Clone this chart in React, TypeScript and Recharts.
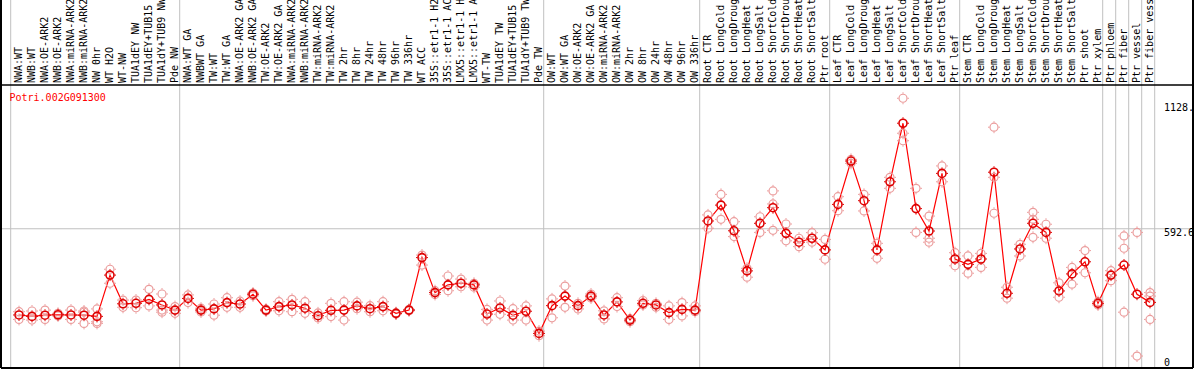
import React from "react";
import { ComposedChart, Line, Scatter, XAxis, YAxis, ReferenceLine } from "recharts";

const categories: string[] = [
  "NWA:WT", "NWB:WT", "NWA:OE-ARK2", "NWB:OE-ARK2", "NWA:miRNA-ARK2", "NWB:miRNA-ARK2",
  "NW 0hr", "WT H2O", "WT-NW", "TUA1dEY NW", "TUA1dEY+TUB15", "TUA1dY+TUB9 NW", "Pde NW",
  "NWA:WT GA", "NWBWT GA", "TW:WT", "TW:WT GA", "NWA:OE-ARK2 GA", "NWB:OE-ARK2 GA",
  "TW:OE-ARK2", "TW:OE-ARK2 GA", "NWA:miRNA-ARK2", "NWB:miRNA-ARK2", "TW:miRNA-ARK2",
  "TW:miRNA-ARK2", "TW 2hr", "TW 8hr", "TW 24hr", "TW 48hr", "TW 96hr", "TW 336hr",
  "WT ACC", "35S::etr1-1 H2", "35S::etr1-1 AC", "LMX5::etr1-1 H", "LMX5::etr1-1 A",
  "WT-TW", "TUA1dEY TW", "TUA1dEY+TUB15", "TUA1dY+TUB9 TW", "Pde TW",
  "OW:WT", "OW:WT GA", "OW:OE-ARK2", "OW:OE-ARK2 GA", "OW:miRNA-ARK2", "OW:miRNA-ARK2",
  "OW 2hr", "OW 8hr", "OW 24hr", "OW 48hr", "OW 96hr", "OW 336hr",
  "Root CTR", "Root LongCold", "Root LongDroug", "Root LongHeat", "Root LongSalt",
  "Root ShortCold", "Root ShortDrou", "Root ShortHeat", "Root ShortSalt", "Ptr root",
  "Leaf CTR", "Leaf LongCold", "Leaf LongDroug", "Leaf LongHeat", "Leaf LongSalt",
  "Leaf ShortCold", "Leaf ShortDrou", "Leaf ShortHeat", "Leaf ShortSalt", "Ptr leaf",
  "Stem CTR", "Stem LongCold", "Stem LongDroug", "Stem LongHeat", "Stem LongSalt",
  "Stem ShortCold", "Stem ShortDrou", "Stem ShortHeat", "Stem ShortSalt", "Ptr shoot",
  "Ptr xylem", "Ptr phloem", "Ptr fiber", "Ptr vessel", "Ptr fiber vess",
];

const means: number[] = [
  223, 217, 222, 224, 223, 222, 217, 394, 271, 273, 290, 266, 244,
  294, 244, 249, 276, 270, 312, 244, 259, 266, 252, 220, 243, 244, 262, 250, 259, 230, 244,
  469, 319, 352, 359, 352, 227, 253, 222, 239, 144,
  263, 304, 263, 304, 223, 279, 201, 273, 266, 233, 247, 244,
  626, 694, 584, 412, 616, 683, 573, 535, 552, 502,
  697, 883, 713, 502, 794, 1045, 679, 583, 830, 463,
  440, 463, 835, 316, 506, 616, 577, 326, 399, 451,
  273, 394, 437, 312, 277,
];

const replicates: number[][] = [
  [237, 204], [240, 201], [244, 204], [230, 219], [244, 204], [240, 187, 235], [249, 194, 187],
  [419, 359], [287, 256], [287, 254], [333, 262], [313, 244, 235], [259, 230],
  [309, 276], [252, 236], [270, 222], [297, 256], [282, 256], [317, 305], [248, 240],
  [280, 241], [290, 237], [280, 230], [232, 210], [273, 216], [280, 201], [278, 250],
  [263, 237], [280, 241], [233, 227], [247, 241],
  [480, 437], [327, 311], [390, 327], [377, 344], [359, 342], [247, 201], [283, 226],
  [250, 201], [262, 201], [154, 134],
  [292, 211], [347, 256], [273, 249], [313, 296], [241, 206], [297, 259], [207, 194],
  [285, 266], [273, 256], [262, 204], [276, 219], [262, 237],
  [652, 595], [740, 633], [623, 559], [423, 385], [644, 577], [755, 699, 586], [613, 541],
  [552, 516], [576, 535], [547, 462],
  [730, 670], [873, 890], [740, 669], [530, 466], [813, 766], [1152, 1002, 970], [766, 577],
  [647, 552, 535], [862, 794], [490, 434],
  [476, 402], [487, 427], [1028, 813, 659], [342, 295], [526, 476], [663, 633, 556],
  [612, 552], [361, 299], [427, 355], [499, 404],
  [280, 266], [413, 370], [562, 509, 235], [577, 47], [319, 304, 204],
];

const groupStarts: number[] = [0, 13, 41, 53, 63, 73, 84, 85, 86, 87, 88];
const rightTicks: number[] = [0, 592.6, 1128];
const rightTickLabels: string[] = ["0", "592.6", "1128."];
const geneId = "Potri.002G091300";

const FONT = "'DejaVu Sans Mono', monospace";
const MEAN_COLOR = "#dd0000";
const LINE_COLOR = "#ff0000";
const REP_COLOR = "#eb9c9c";

const lineData = means.map((m, i) => ({ idx: i, mean: m }));
const repData: { idx: number; v: number }[] = [];
replicates.forEach((arr, i) => arr.forEach((v) => repData.push({ idx: i, v })));
const tickIdx = categories.map((_, i) => i);

const Marker = ({ cx, cy, color, w }: { cx: number; cy: number; color: string; w: number }) => {
  if (cx == null || cy == null || isNaN(cx) || isNaN(cy)) return null;
  return (
    <g>
      <circle cx={cx} cy={cy} r={4} fill="none" stroke={color} strokeWidth={w} />
      <line x1={cx} y1={cy - 4.5} x2={cx} y2={cy - 6} stroke={color} strokeWidth={1} />
      <line x1={cx} y1={cy + 4.5} x2={cx} y2={cy + 6} stroke={color} strokeWidth={1} />
      <line x1={cx - 4.5} y1={cy} x2={cx - 6} y2={cy} stroke={color} strokeWidth={1} />
      <line x1={cx + 4.5} y1={cy} x2={cx + 6} y2={cy} stroke={color} strokeWidth={1} />
    </g>
  );
};

const HeaderTick = (props: any) => {
  const { x, payload } = props;
  const label = categories[payload.value];
  const tx = x + 3;
  const ty = 83;
  return (
    <text x={tx} y={ty} transform={`rotate(-90 ${tx} ${ty})`} fontFamily={FONT} fontSize={10} fill="#000">
      {label}
    </text>
  );
};

const RightTick = (props: any) => {
  const { y, payload } = props;
  const i = rightTicks.indexOf(payload.value);
  const ty = payload.value === 0 ? 366 : y + 7.5;
  return (
    <text x={1164} y={ty} fontFamily={FONT} fontSize={10} fill="#000">
      {rightTickLabels[i]}
    </text>
  );
};

export default function App() {
  return (
    <div style={{ position: "absolute", left: 0, top: 0, width: 1194, height: 370, background: "#fff" }}>
      <ComposedChart width={1194} height={370} data={lineData} margin={{ top: 0, right: 1, bottom: 2, left: 1 }}>
        <XAxis
          type="number"
          dataKey="idx"
          domain={[-18 / 13, 1174 / 13]}
          ticks={tickIdx}
          interval={0}
          orientation="top"
          mirror
          axisLine={false}
          tickLine={false}
          tick={HeaderTick}
        />
        <YAxis
          type="number"
          domain={[-4.3, 1573.3]}
          ticks={rightTicks}
          interval={0}
          orientation="right"
          mirror
          axisLine={false}
          tickLine={false}
          tick={RightTick}
          allowDataOverflow
        />
        <ReferenceLine y={592.6} stroke="#c0c0c0" strokeWidth={1} />
        {groupStarts.map((g) => (
          <ReferenceLine key={"g" + g} x={g - 8.3 / 13} stroke="#c0c0c0" strokeWidth={1} />
        ))}
        <ReferenceLine y={1209} stroke="#000" strokeWidth={1.5} />
        <ReferenceLine y={-4.3} stroke="#000" strokeWidth={2} />
        <ReferenceLine x={-18 / 13} stroke="#000" strokeWidth={2} />
        <ReferenceLine x={1174 / 13} stroke="#000" strokeWidth={2} />
        <Scatter
          data={repData}
          dataKey="v"
          isAnimationActive={false}
          shape={(p: any) => <Marker cx={p.cx} cy={p.cy} color={REP_COLOR} w={1.2} />}
        />
        <Line
          type="linear"
          dataKey="mean"
          stroke={LINE_COLOR}
          strokeWidth={1.2}
          isAnimationActive={false}
          dot={(p: any) => <Marker key={"m" + p.index} cx={p.cx} cy={p.cy} color={MEAN_COLOR} w={1.6} />}
          activeDot={false}
        />
      </ComposedChart>
      <svg width={200} height={20} style={{ position: "absolute", left: 0, top: 88 }}>
        <text x={9.5} y={12.5} fontFamily={FONT} fontSize={10} fill="#ff0000">
          {geneId}
        </text>
      </svg>
    </div>
  );
}
